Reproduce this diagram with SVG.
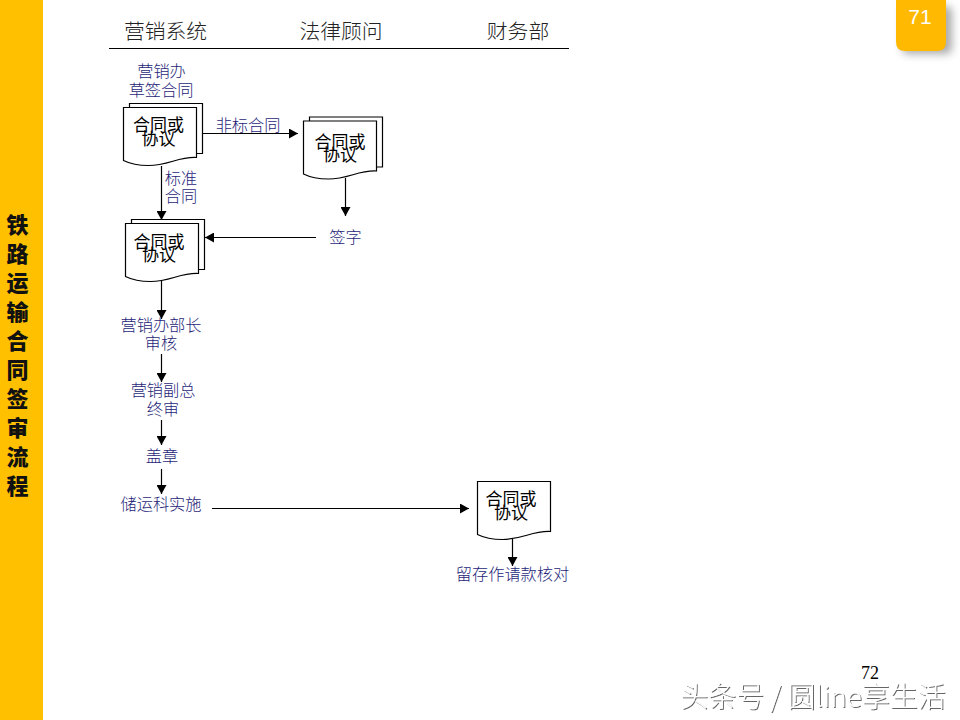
<svg xmlns="http://www.w3.org/2000/svg" width="960" height="720" viewBox="0 0 960 720">
<style>
text{font-family:"Noto Sans CJK SC","Liberation Sans",sans-serif;text-anchor:middle}
.h{font-size:20.800px;fill:#222;font-weight:300}
.l{font-size:16.200px;fill:#1e1e78;font-weight:300}
.d{font-size:17px;fill:#000;font-weight:400}
.s{font-size:22px;font-weight:900;fill:#111}
.c{stroke:#000;stroke-width:1.2;fill:none}
.doc{fill:#fff;stroke:#000;stroke-width:1.200}
</style>
<defs>
<marker id="a" markerUnits="userSpaceOnUse" markerWidth="10" markerHeight="10" refX="9" refY="5" orient="auto"><path d="M0 0L9 5L0 10Z" fill="#000"/></marker>
<filter id="sh" x="-30%" y="-30%" width="170%" height="170%"><feGaussianBlur stdDeviation="4"/></filter>
<filter id="wm" x="-5%" y="-20%" width="110%" height="140%"><feDropShadow dx="1" dy="1" stdDeviation="0.5" flood-color="#666"/></filter>
<symbol id="single" overflow="visible"><path class="doc" d="M0 0H73V50C55 49 45 58 25 58C14 58 6 56 0 53Z"/></symbol>
<symbol id="stack" overflow="visible"><path class="doc" d="M6 -4H79V46H6Z"/><use href="#single"/></symbol>
</defs>
<rect width="960" height="720" fill="#fff"/>
<g id="sidebar"><rect width="43" height="720" fill="#ffc000"/>
<text class="s" x="17.500" y="233">铁</text><text class="s" x="17.500" y="262">路</text><text class="s" x="17.500" y="291">运</text><text class="s" x="17.500" y="320">输</text><text class="s" x="17.500" y="349">合</text><text class="s" x="17.500" y="378">同</text><text class="s" x="17.500" y="407">签</text><text class="s" x="17.500" y="436">审</text><text class="s" x="17.500" y="465">流</text><text class="s" x="17.500" y="494">程</text></g>
<g id="tab"><rect x="902" y="6" width="50" height="48" rx="6" fill="#aaa" filter="url(#sh)"/><path d="M896 0H946V42Q946 51 937 51H905Q896 51 896 42Z" fill="#ffb900"/><text x="920" y="24" style="font-family:'Liberation Sans',sans-serif;font-size:21px;fill:#fff">71</text></g>
<g id="header"><text class="h" x="165.500" y="39">营销系统</text><text class="h" x="341" y="39">法律顾问</text><text class="h" x="518" y="39">财务部</text><path d="M109 48.500H569" stroke="#000" stroke-width="1"/></g>
<g id="connectors">
<path class="c" d="M202 133.500H298" marker-end="url(#a)"/>
<path class="c" d="M161.500 166V220" marker-end="url(#a)"/>
<path class="c" d="M345.500 178V216" marker-end="url(#a)"/>
<path class="c" d="M316 237.500H205" marker-end="url(#a)"/>
<path class="c" d="M161.500 281V319" marker-end="url(#a)"/>
<path class="c" d="M161.500 354V382" marker-end="url(#a)"/>
<path class="c" d="M161.500 420V445" marker-end="url(#a)"/>
<path class="c" d="M161.500 469V494" marker-end="url(#a)"/>
<path class="c" d="M212 508.500H469" marker-end="url(#a)"/>
<path class="c" d="M512.500 538V566" marker-end="url(#a)"/>
</g>
<g id="n1"><text class="l" x="161.500" y="77">营销办</text><text class="l" x="161" y="96">草签合同</text><use href="#stack" x="123.500" y="107.500"/><text class="d" x="158.500" y="131">合同或</text><text class="d" x="158.500" y="145">协议</text></g>
<g id="e1"><text class="l" x="248" y="131">非标合同</text></g>
<g id="e2"><text class="l" x="181" y="184">标准</text><text class="l" x="181" y="202">合同</text></g>
<g id="n2"><use href="#stack" x="303.500" y="121"/><text class="d" x="340" y="147.500">合同或</text><text class="d" x="340" y="160.500">协议</text></g>
<g id="n3"><text class="l" x="345.500" y="243">签字</text></g>
<g id="n4"><use href="#stack" x="125.500" y="223.500"/><text class="d" x="159" y="248">合同或</text><text class="d" x="159" y="261">协议</text></g>
<g id="n5"><text class="l" x="161" y="331">营销办部长</text><text class="l" x="161" y="349">审核</text></g>
<g id="n6"><text class="l" x="163" y="396">营销副总</text><text class="l" x="163" y="415">终审</text></g>
<g id="n7"><text class="l" x="162" y="462">盖章</text></g>
<g id="n8"><text class="l" x="161" y="510">储运科实施</text></g>
<g id="n9"><use href="#single" x="477.500" y="481.500"/><text class="d" x="511" y="505">合同或</text><text class="d" x="511" y="519">协议</text></g>
<g id="n10"><text class="l" x="512.500" y="580">留存作请款核对</text></g>
<text x="870" y="679" style="font-family:'Liberation Serif',serif;font-size:18px;font-weight:400;fill:#000">72</text>
<text x="813" y="707" filter="url(#wm)" style="font-size:28px;fill:#fff;font-weight:300">头条号 / 圆line享生活</text>
</svg>
